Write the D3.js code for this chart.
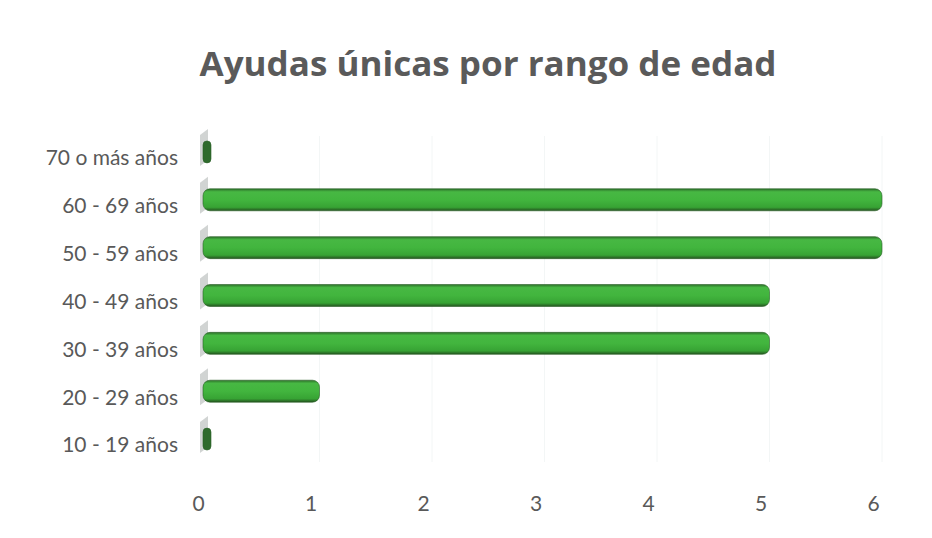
<!DOCTYPE html>
<html>
<head>
<meta charset="utf-8">
<script src="https://cdn.jsdelivr.net/npm/d3@7"></script>
<style>
  body { margin: 0; background: #fff; }
  svg { display: block; }
</style>
</head>
<body>
<svg id="chart" width="932" height="538"></svg>
<script>
// Data
var categories = ['70 o más años', '60 - 69 años', '50 - 59 años', '40 - 49 años',
                  '30 - 39 años', '20 - 29 años', '10 - 19 años'];
var values = [0, 6, 6, 5, 5, 1, 0];
var tickValues = [0, 1, 2, 3, 4, 5, 6];
var title = 'Ayudas únicas por rango de edad';

var svg = d3.select('#chart');
var textColor = '#595959';

// Scales
var x = d3.scaleLinear()
    .domain([0, 6])
    .range([198, 873]);

var y = d3.scaleBand()
    .domain(categories)
    .range([134, 469]);

// Gradient for the cylinder look
var defs = svg.append('defs');
var grad = defs.append('linearGradient')
    .attr('id', 'barGrad')
    .attr('x1', 0).attr('y1', 0)
    .attr('x2', 0).attr('y2', 1);
grad.append('stop').attr('offset', '0%').attr('stop-color', '#2c6f29');
grad.append('stop').attr('offset', '14%').attr('stop-color', '#47b843');
grad.append('stop').attr('offset', '50%').attr('stop-color', '#42b53e');
grad.append('stop').attr('offset', '84%').attr('stop-color', '#37a334');
grad.append('stop').attr('offset', '100%').attr('stop-color', '#24521f');

// Faint gridlines
svg.append('g')
    .attr('class', 'grid')
    .selectAll('line')
    .data(tickValues.slice(1))
    .enter()
    .append('line')
    .attr('x1', function (d) { return x(d) + 9; })
    .attr('x2', function (d) { return x(d) + 9; })
    .attr('y1', 136)
    .attr('y2', 462)
    .attr('stroke', '#f3f6f6')
    .attr('stroke-width', 1);

var barH = 22;
var barOffset = -6;   // bars sit a little above the label centre (3D depth)
var endPad = 9;

function barCenter(i) {
    return y(categories[i]) + y.bandwidth() / 2 + barOffset;
}

var bars = svg.append('g').attr('class', 'bars');

// Grey depth shadow at the base of every bar
bars.selectAll('path.depth')
    .data(values)
    .enter()
    .append('path')
    .attr('class', 'depth')
    .attr('d', function (d, i) {
        var cy = barCenter(i);
        var x0 = x(0) + 2;
        return 'M' + x0 + ',' + (cy + barH / 2 + 3) +
            'L' + x0 + ',' + (cy - barH / 2 - 6) +
            'L' + (x0 + 8) + ',' + (cy - barH / 2 - 12) +
            'L' + (x0 + 8) + ',' + (cy + barH / 2 - 3) + 'Z';
    })
    .attr('fill', '#c6c9c8')
    .attr('opacity', 0.8);

// Bars
bars.selectAll('rect.bar')
    .data(values)
    .enter()
    .append('rect')
    .attr('class', 'bar')
    .attr('x', x(0) + 5)
    .attr('y', function (d, i) { return barCenter(i) - barH / 2; })
    .attr('width', function (d) { return Math.max(x(d) + endPad - (x(0) + 5), 8); })
    .attr('height', barH)
    .attr('rx', function (d) { return d === 0 ? 4 : 7; })
    .attr('fill', function (d) { return d === 0 ? '#2f6b2d' : 'url(#barGrad)'; })
    .attr('stroke', '#2a5f27')
    .attr('stroke-width', 0.6);

// Category labels
svg.append('g')
    .attr('class', 'y-labels')
    .selectAll('text')
    .data(categories)
    .enter()
    .append('text')
    .attr('x', 178)
    .attr('y', function (d) { return y(d) + y.bandwidth() / 2; })
    .attr('dy', '0.35em')
    .attr('text-anchor', 'end')
    .attr('font-family', 'Lato, "Open Sans", sans-serif')
    .attr('font-size', 21)
    .attr('fill', textColor)
    .text(function (d) { return d; });

// X axis tick labels
var xAxis = d3.axisBottom(x)
    .tickValues(tickValues)
    .tickSize(0)
    .tickPadding(0)
    .tickFormat(d3.format('d'));

var gx = svg.append('g')
    .attr('class', 'x-axis')
    .attr('transform', 'translate(0,496)')
    .call(xAxis);
gx.select('.domain').remove();
gx.selectAll('text')
    .attr('font-family', 'Lato, "Open Sans", sans-serif')
    .attr('font-size', 21)
    .attr('fill', textColor);

// Title
svg.append('text')
    .attr('x', 488)
    .attr('y', 76)
    .attr('text-anchor', 'middle')
    .attr('font-family', '"Open Sans", Lato, sans-serif')
    .attr('font-weight', 'bold')
    .attr('font-size', 34)
    .attr('fill', '#5a5a5a')
    .attr('textLength', 577)
    .attr('lengthAdjust', 'spacingAndGlyphs')
    .text(title);
</script>
</body>
</html>
